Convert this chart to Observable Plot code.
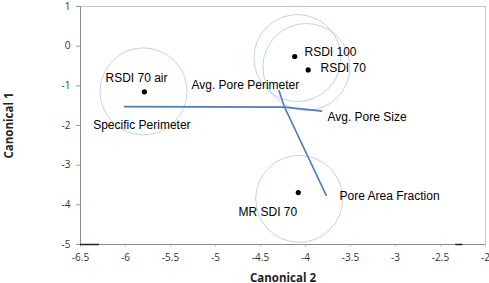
<!DOCTYPE html>
<html><head><meta charset="utf-8">
<script src="https://cdn.jsdelivr.net/npm/d3@7"></script>
<script src="https://cdn.jsdelivr.net/npm/@observablehq/plot@0.6"></script>
<style>body{margin:0;background:#fff}#chart svg{display:block}</style>
</head><body><div id="chart"></div>
<script>
// Group centroids (dots)
const groupNames = ["RSDI 70 air", "RSDI 100", "RSDI 70", "MR SDI 70"];
const groupX = [-5.79, -4.12, -3.97, -4.08];
const groupY = [-1.15, -0.26, -0.60, -3.69];
// Confidence circle centres
const circleX = [-5.80, -4.09, -3.99, -4.07];
const circleY = [-1.14, -0.30, -0.525, -3.85];
// Biplot vectors
const vectorOrigin = [-4.233, -1.5375];
const vectorNames = ["Avg. Pore Perimeter", "Specific Perimeter", "Avg. Pore Size", "Pore Area Fraction"];
const vectorEndX = [-4.297, -6.019, -3.814, -3.767];
const vectorEndY = [-1.1075, -1.525, -1.6375, -3.775];
// Label anchor points (data units)
const groupLabelX = [-5.878, -4.011, -3.833, -4.092];
const groupLabelY = [-0.80, -0.15, -0.55, -4.175];
const vectorLabelX = [-5.267, -6.359, -3.756, -3.622];
const vectorLabelY = [-0.975, -1.98, -1.80, -3.79];
// Axes
const xTicks = [-6.5, -6, -5.5, -5, -4.5, -4, -3.5, -3, -2.5, -2];
const yTicks = [-5, -4, -3, -2, -1, 0, 1];
// small dark segments along the bottom edge
const edgeX1 = [-6.5, -2.33];
const edgeX2 = [-6.29, -2.25];

const groups = groupNames.map((n, i) => ({name: n, x: groupX[i], y: groupY[i], cx: circleX[i], cy: circleY[i], lx: groupLabelX[i], ly: groupLabelY[i]}));
const vectors = vectorNames.map((n, i) => ({name: n, x1: vectorOrigin[0], y1: vectorOrigin[1], x2: vectorEndX[i], y2: vectorEndY[i], lx: vectorLabelX[i], ly: vectorLabelY[i]}));
const edges = edgeX1.map((v, i) => ({x1: v, x2: edgeX2[i]}));

const labelFont = {fontFamily: "Liberation Sans, Arial, sans-serif", fontSize: 12, fill: "#000"};

const chart = Plot.plot({
  width: 489, height: 283,
  marginLeft: 80, marginRight: 4, marginTop: 6, marginBottom: 39,
  style: {fontFamily: "Open Sans, sans-serif", fontSize: "10px", color: "#333", background: "#fff"},
  x: {domain: [-6.5, -2]},
  y: {domain: [-5, 1]},
  marks: [
    Plot.frame({stroke: "#c8c8c8"}),
    Plot.axisX({ticks: xTicks, tickFormat: d => String(d), tickSize: 3, tickPadding: 6, stroke: "#ccc",
      label: "Canonical 2", labelAnchor: "center", labelArrow: "none", labelOffset: 37}),
    Plot.axisY({ticks: yTicks, tickFormat: d => String(d), tickSize: 4, tickPadding: 6, stroke: "#999",
      label: "Canonical 1", labelAnchor: "center", labelArrow: "none", labelOffset: 76}),
    Plot.ruleX([-6.5], {stroke: "#8c8c8c"}),
    Plot.ruleY([-5], {stroke: "#8c8c8c"}),
    Plot.ruleY(edges, {y: -5, x1: "x1", x2: "x2", stroke: "#222", strokeWidth: 1.5}),
    Plot.dot(groups, {x: "cx", y: "cy", r: 43.5, stroke: "#a6bfdf", strokeWidth: 0.7, fill: "none"}),
    Plot.link(vectors, {x1: "x1", y1: "y1", x2: "x2", y2: "y2", stroke: "#4a7ebb", strokeWidth: 1.6}),
    Plot.dot(groups, {x: "x", y: "y", r: 2.6, fill: "#000"}),
    Plot.text(groups.filter(d => d.name === "RSDI 70 air"), {x: "lx", y: "ly", text: "name", textAnchor: "middle", ...labelFont}),
    Plot.text(groups.filter(d => d.name === "RSDI 100" || d.name === "RSDI 70"), {x: "lx", y: "ly", text: "name", textAnchor: "start", ...labelFont}),
    Plot.text(groups.filter(d => d.name === "MR SDI 70"), {x: "lx", y: "ly", text: "name", textAnchor: "end", ...labelFont}),
    Plot.text(vectors, {x: "lx", y: "ly", text: "name", textAnchor: "start", ...labelFont})
  ]
});
document.getElementById("chart").appendChild(chart);
// bold axis titles
chart.querySelectorAll("g[aria-label='x-axis label'] text, g[aria-label='y-axis label'] text").forEach(t => {
  t.setAttribute("font-weight", "bold");
  t.setAttribute("font-size", "11.5");
  t.setAttribute("fill", "#222");
});
</script>
</body></html>
